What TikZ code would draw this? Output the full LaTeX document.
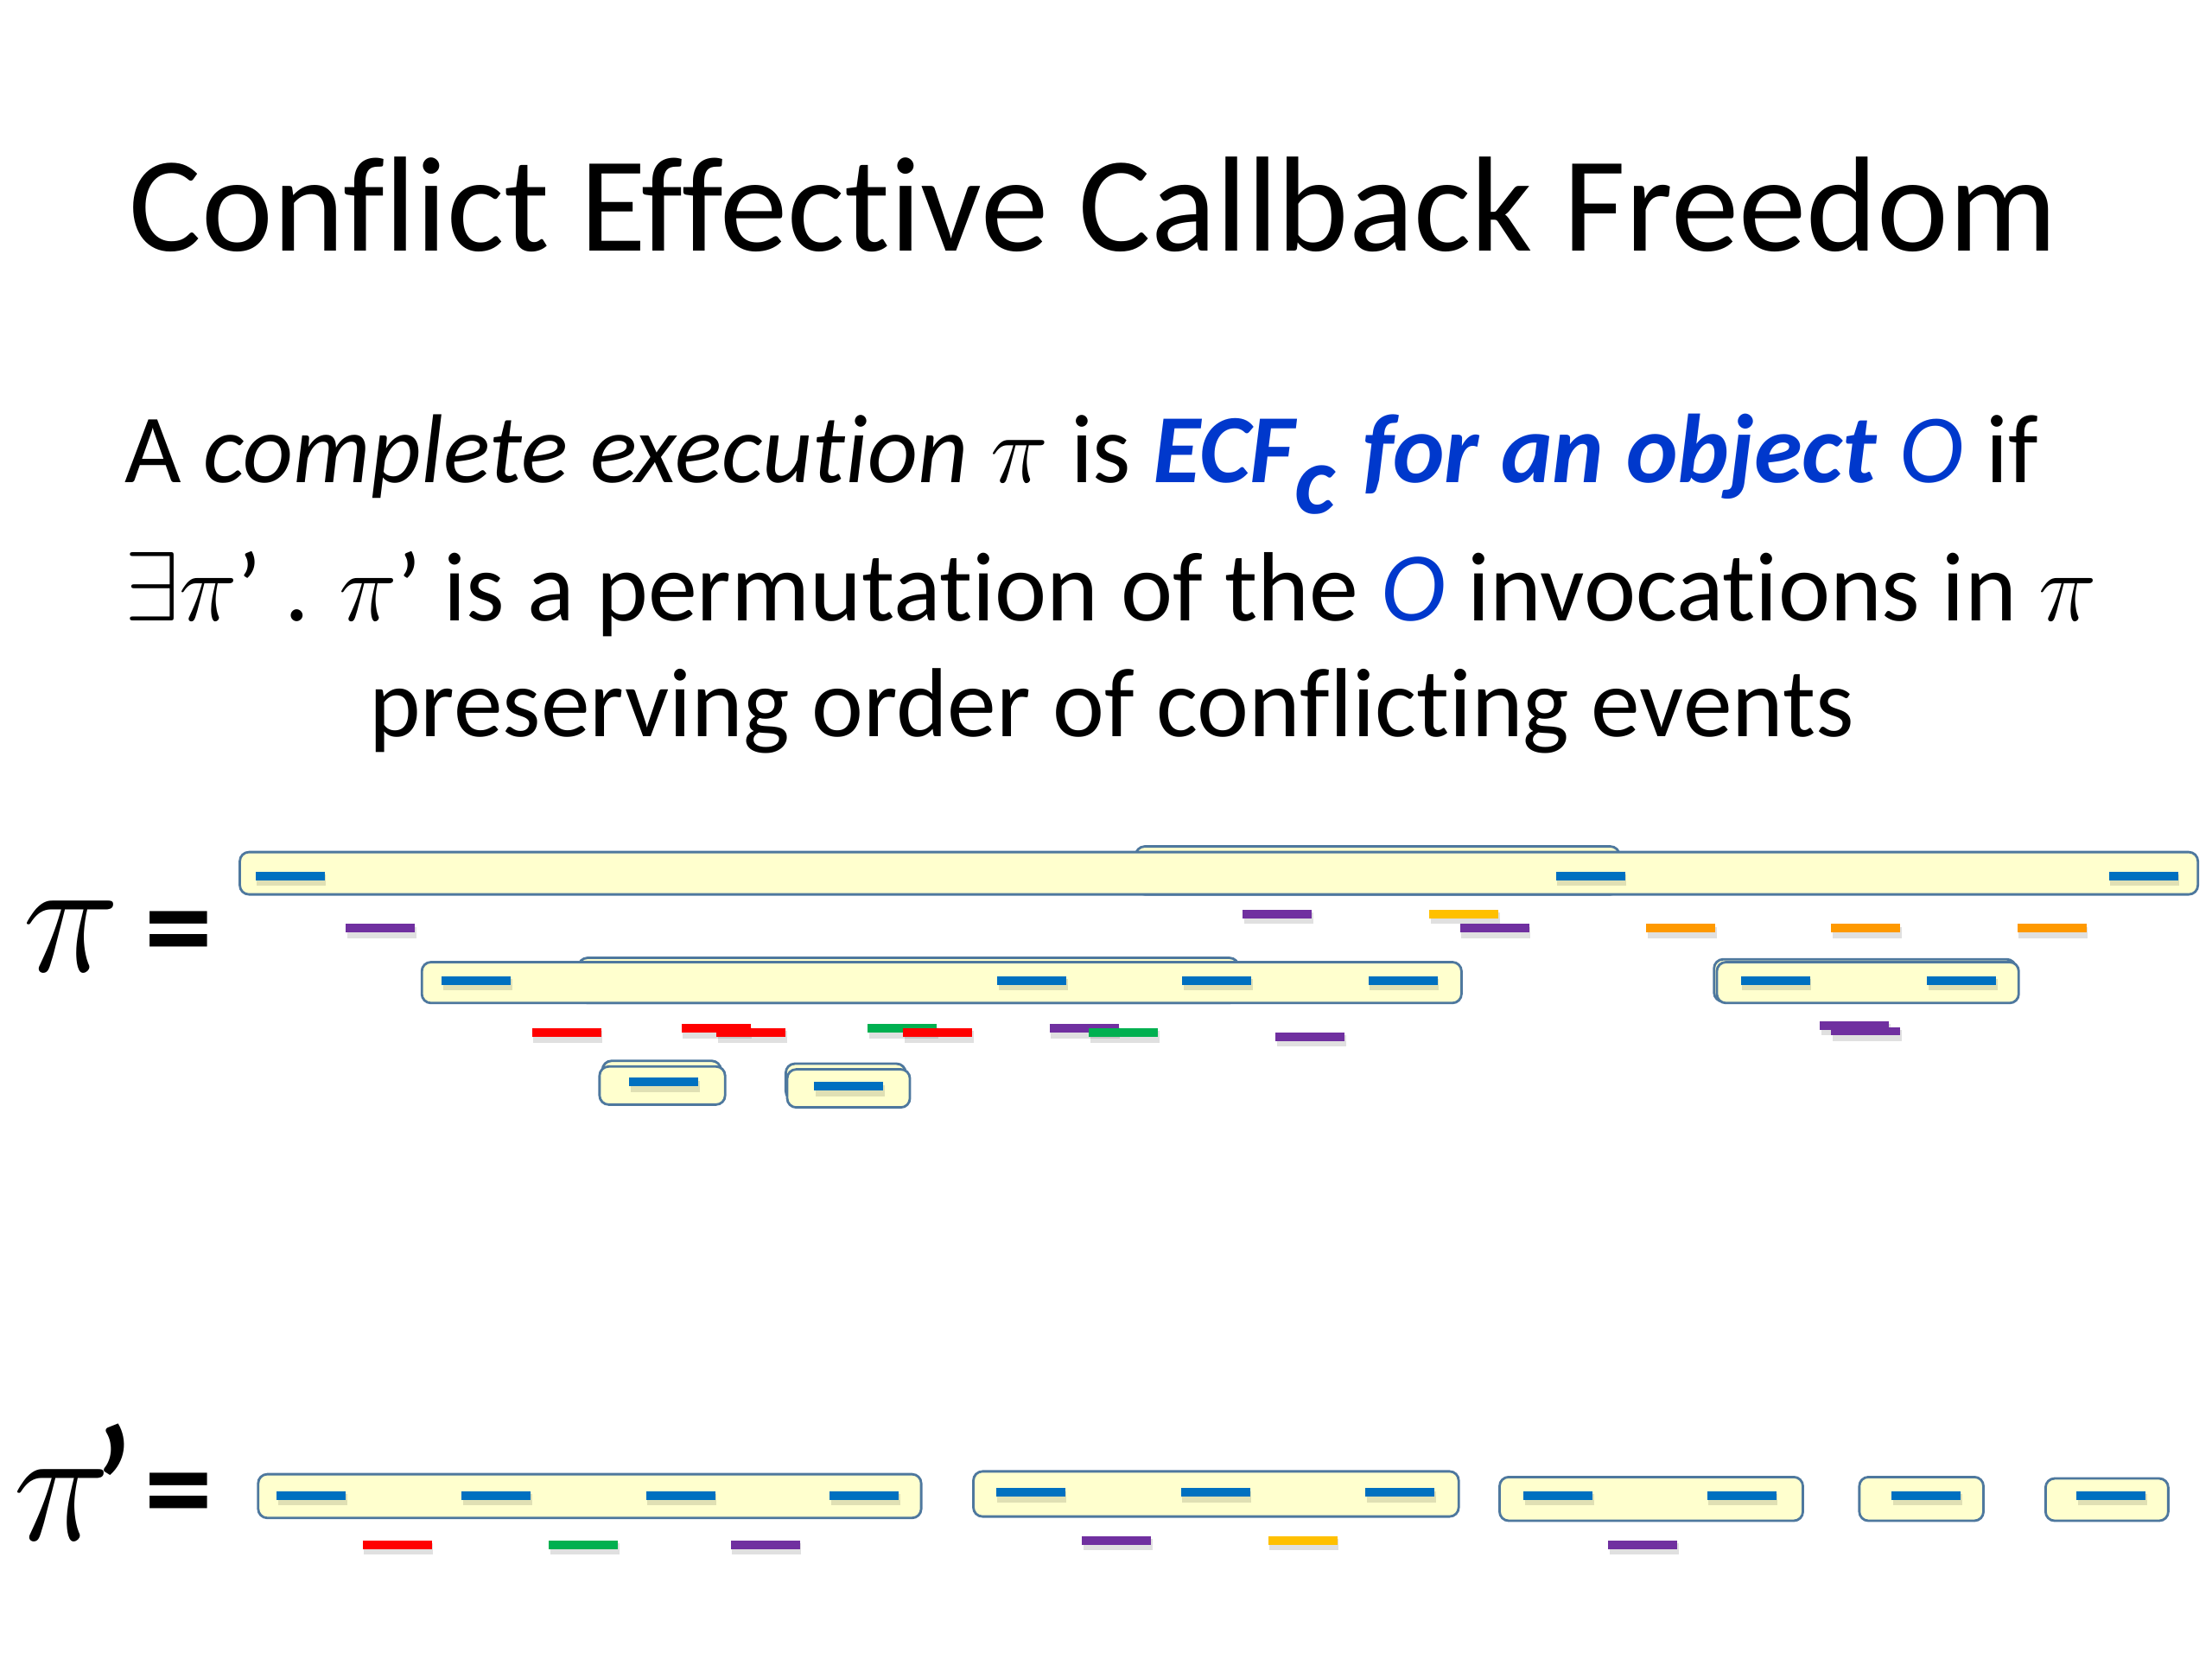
\RequirePackage{fix-cm}
\documentclass[tikz,border=0pt]{standalone}
\usepackage{fontspec}
\setmainfont{Carlito}[Ligatures=NoCommon]
\usepackage{amssymb}
\definecolor{boxfill}{RGB}{255,255,206}
\definecolor{boxline}{RGB}{78,120,158}
\definecolor{evblue}{RGB}{0,112,192}
\definecolor{evpurple}{RGB}{112,48,160}
\definecolor{evred}{RGB}{255,0,0}
\definecolor{evgreen}{RGB}{0,176,80}
\definecolor{evorange}{RGB}{255,153,0}
\definecolor{evgold}{RGB}{255,192,0}
\definecolor{ecfblue}{RGB}{0,56,204}
\tikzset{
  blk/.style={draw=boxline, fill=boxfill, rounded corners=3pt, line width=0.8pt},
  evshade/.style={fill=black, opacity=0.12},
  txt/.style={inner sep=0pt}
}
% one event: colour, left x, centre y
\newcommand{\ev}[3]{%
  \fill[evshade] (#2+1,#3-1) rectangle ++(49,8);
  \fill[#1] (#2,#3-3) rectangle ++(49,6);}

\begin{document}
\begin{tikzpicture}[x=0.016327cm, y=-0.016327cm]
\useasboundingbox (0,0) rectangle (1568,1176);

% title and definition
\node[txt, anchor=base] (title) at (775,178)
  {\fontsize{44.6}{54}\selectfont Conflict Effective Callback Freedom};
\node[txt, anchor=base west] (defa) at (88,342)
  {\fontsize{32.2}{38}\selectfont A \textit{complete execution} $\pi$ is
   \textcolor{ecfblue}{\textbf{\textit{ECF\raisebox{-0.32em}{c}\kern0.28em for an object}} \textit{O}} if};
\node[txt, anchor=base west] (defb) at (88,440)
  {\fontsize{32.4}{38}\selectfont $\exists\pi$’ . $\pi$’ is a permutation of the
   \textcolor{ecfblue}{\textit{O}} invocations in $\pi$};
\node[txt, anchor=base] (defc) at (788,522)
  {\fontsize{32.3}{38}\selectfont preserving order of conflicting events};

% pi
\node[txt, anchor=base west] (pi) at (16,689)
  {\fontsize{54}{54}\selectfont$\pi$};
\node[txt] (eq) at (127,668) {\fontsize{45}{45}\selectfont\textbf{=}};

\draw[blk] (805,600) rectangle (1148,634);
\draw[blk] (170,604) rectangle (1558,634);
\foreach \x in {181,1103,1495} \ev{evblue}{\x}{621};

\ev{evpurple}{245}{658}
\ev{evpurple}{881}{648}
\ev{evgold}{1013}{648}
\ev{evpurple}{1035}{658}
\foreach \x in {1167,1298,1430} \ev{evorange}{\x}{658};

\draw[blk] (410,679) rectangle (878,711);
\draw[blk] (299,682) rectangle (1036,711);
\foreach \x in {313,707,838,970} \ev{evblue}{\x}{695};

\draw[blk] (1215,680) rectangle (1429,710);
\draw[blk] (1217,682) rectangle (1431,711);
\foreach \x in {1234,1366} \ev{evblue}{\x}{695};

\ev{evred}{377}{732}
\ev{evred}{483}{729}
\ev{evred}{508}{732}
\ev{evgreen}{615}{729}
\ev{evred}{640}{732}
\ev{evpurple}{744}{729}
\ev{evgreen}{772}{732}
\ev{evpurple}{904}{735}
\ev{evpurple}{1290}{727}
\ev{evpurple}{1298}{731}

\draw[blk] (427,752) rectangle (511,778);
\draw[blk] (425,756) rectangle (514,783);
\ev{evblue}{446}{767}
\draw[blk] (557,754) rectangle (642,780);
\draw[blk] (558,758) rectangle (645,785);
\ev{evblue}{577}{770}

% pi prime
\node[txt, anchor=base west] (pip) at (9,1092)
  {\fontsize{54}{54}\selectfont$\pi$\kern-0.12em\raisebox{-0.1em}{\fontsize{62}{62}\selectfont’}};
\node[txt] (eqp) at (127,1066) {\fontsize{45}{45}\selectfont\textbf{=}};

\draw[blk] (183,1045) rectangle (653,1076);
\foreach \x in {196,327,458,588} \ev{evblue}{\x}{1060};
\ev{evred}{257}{1095}
\ev{evgreen}{389}{1095}
\ev{evpurple}{518}{1095}

\draw[blk] (690,1043) rectangle (1034,1075);
\foreach \x in {706,837,968} \ev{evblue}{\x}{1058};
\ev{evpurple}{767}{1092}
\ev{evgold}{899}{1092}

\draw[blk] (1063,1047) rectangle (1278,1078);
\foreach \x in {1080,1210} \ev{evblue}{\x}{1060};
\ev{evpurple}{1140}{1095}

\draw[blk] (1318,1047) rectangle (1406,1078);
\ev{evblue}{1341}{1060}
\draw[blk] (1450,1048) rectangle (1537,1078);
\ev{evblue}{1472}{1060}
\end{tikzpicture}
\end{document}
